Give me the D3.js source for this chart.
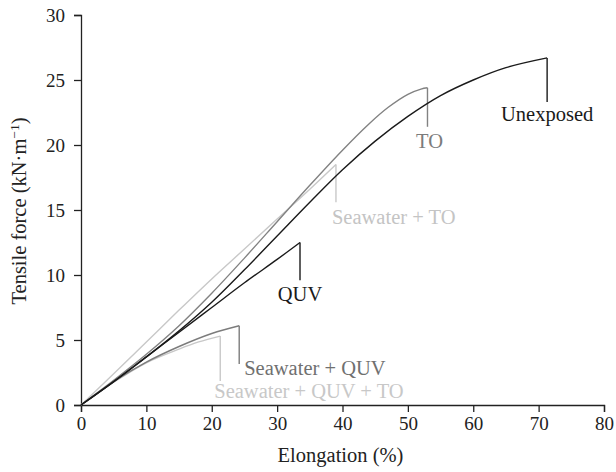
<!DOCTYPE html>
<html>
<head>
<meta charset="utf-8">
<script src="https://cdn.jsdelivr.net/npm/d3@7"></script>
<style>
  body { margin: 0; background: #fff; }
  text { font-family: "Liberation Serif", "DejaVu Serif", serif; }
</style>
</head>
<body>
<div id="chart"></div>
<script>
// Tensile force vs elongation

// series names
var seriesNames = ["Unexposed", "TO", "Seawater + TO", "QUV", "Seawater + QUV", "Seawater + QUV + TO"];

// elongation (%) and tensile force (kN/m), one pair of arrays per series
var unexposedX = [0, 5, 10, 15, 20, 25, 30, 35, 40, 45, 50, 55, 60, 65, 71.3];
var unexposedY = [0, 1.8, 3.7, 5.7, 7.9, 10.4, 13.0, 15.6, 18.1, 20.3, 22.2, 23.8, 25.0, 25.95, 26.7];

var toX = [0, 5, 10, 15, 20, 25, 30, 35, 40, 44, 47, 50, 52, 53];
var toY = [0, 1.9, 3.9, 6.1, 8.6, 11.3, 14.1, 16.9, 19.6, 21.6, 22.9, 23.9, 24.3, 24.4];

var seaToX = [0, 5, 10, 15, 20, 25, 30, 35, 39];
var seaToY = [0, 2.4, 4.85, 7.3, 9.7, 12.0, 14.3, 16.6, 18.5];

var quvX = [0, 5, 10, 15, 20, 25, 30, 33.5];
var quvY = [0, 1.8, 3.7, 5.6, 7.5, 9.4, 11.2, 12.5];

var seaQuvX = [0, 5, 10, 15, 20, 24.2];
var seaQuvY = [0, 1.8, 3.3, 4.5, 5.5, 6.1];

var seaQuvToX = [0, 5, 10, 15, 18, 21.3];
var seaQuvToY = [0, 1.75, 3.25, 4.3, 4.85, 5.3];

// where each leader line drops to (kN/m)
var dropTo = [23.3, 21.4, 15.6, 9.6, 3.15, 1.85];

// ticks
var xTicks = [0, 10, 20, 30, 40, 50, 60, 70, 80];
var yTicks = [0, 5, 10, 15, 20, 25, 30];

// styling per series
var colors = ["#1a1a1a", "#828282", "#c8c8c8", "#1a1a1a", "#7c7c7c", "#c8c8c8"];
var labelColors = ["#1a1a1a", "#7c7c7c", "#c4c4c4", "#1a1a1a", "#707070", "#c8c8c8"];
var labelAnchor = ["middle", "middle", "start", "middle", "start", "start"];
var labelDx = [0, 2, -4, 0, 5, -6];
var labelDy = [19, 21, 22, 21, 11, 17];

var svgWidth = 616;
var svgHeight = 472;

var margin = {top: 15, right: 12, bottom: 67, left: 81};
var width = 604 - margin.left;
var height = 405 - margin.top;

var svg = d3.select("#chart")
    .append("svg")
    .attr("width", svgWidth)
    .attr("height", svgHeight);

var chartGroup = svg.append("g")
    .attr("transform", `translate(${margin.left}, ${margin.top})`);

var xScale = d3.scaleLinear().domain([0, 80]).range([0, width]);
var yScale = d3.scaleLinear().domain([0, 30]).range([height, 0]);

// axes
var bottomAxis = d3.axisBottom(xScale).tickValues(xTicks).tickSize(7).tickPadding(5);
var leftAxis = d3.axisLeft(yScale).tickValues(yTicks).tickSize(7).tickPadding(9);

var xAxisG = chartGroup.append("g")
    .attr("transform", `translate(0, ${height})`)
    .call(bottomAxis);

var yAxisG = chartGroup.append("g")
    .call(leftAxis);

[xAxisG, yAxisG].forEach(function(g) {
  g.select(".domain").attr("stroke", "#222").attr("stroke-width", 1.3);
  g.selectAll(".tick line").attr("stroke", "#222").attr("stroke-width", 1.3);
  g.selectAll(".tick text")
    .attr("fill", "#222")
    .attr("font-size", "19px")
    .attr("font-family", "Liberation Serif, serif");
});

// build series
var xs = [unexposedX, toX, seaToX, quvX, seaQuvX, seaQuvToX];
var ys = [unexposedY, toY, seaToY, quvY, seaQuvY, seaQuvToY];
var series = seriesNames.map(function(name, i) {
  return {
    name: name,
    points: xs[i].map(function(x, j) { return {x: x, y: ys[i][j]}; }),
    drop: dropTo[i],
    i: i
  };
});

var line = d3.line()
    .x(d => xScale(d.x))
    .y(d => yScale(d.y))
    .curve(d3.curveCatmullRom.alpha(0.5));

// draw light ones first so dark ones sit on top
var order = [2, 5, 4, 1, 3, 0];
order.forEach(function(i) {
  var s = series[i];
  var last = s.points[s.points.length - 1];
  chartGroup.append("path")
    .datum(s.points)
    .attr("fill", "none")
    .attr("stroke", colors[i])
    .attr("stroke-width", 1.4)
    .attr("d", line);

  // leader line down from the break point
  chartGroup.append("line")
    .attr("x1", xScale(last.x))
    .attr("x2", xScale(last.x))
    .attr("y1", yScale(last.y))
    .attr("y2", yScale(s.drop))
    .attr("stroke", colors[i])
    .attr("stroke-width", 1.4);

  chartGroup.append("text")
    .attr("x", xScale(last.x) + labelDx[i])
    .attr("y", yScale(s.drop) + labelDy[i])
    .attr("text-anchor", labelAnchor[i])
    .attr("font-size", "20.5px")
    .attr("fill", labelColors[i])
    .text(s.name);
});

// axis titles
svg.append("text")
    .attr("x", margin.left + width / 2 - 2)
    .attr("y", 462)
    .attr("text-anchor", "middle")
    .attr("font-size", "20.5px")
    .attr("fill", "#222")
    .text("Elongation (%)");

var yTitle = svg.append("text")
    .attr("transform", "translate(26, 211) rotate(-90)")
    .attr("text-anchor", "middle")
    .attr("font-size", "20.5px")
    .attr("fill", "#222");
yTitle.append("tspan").text("Tensile force (kN·m");
yTitle.append("tspan").attr("dy", -7).attr("font-size", "13.5px").text("−1");
yTitle.append("tspan").attr("dy", 7).text(")");
</script>
</body>
</html>
